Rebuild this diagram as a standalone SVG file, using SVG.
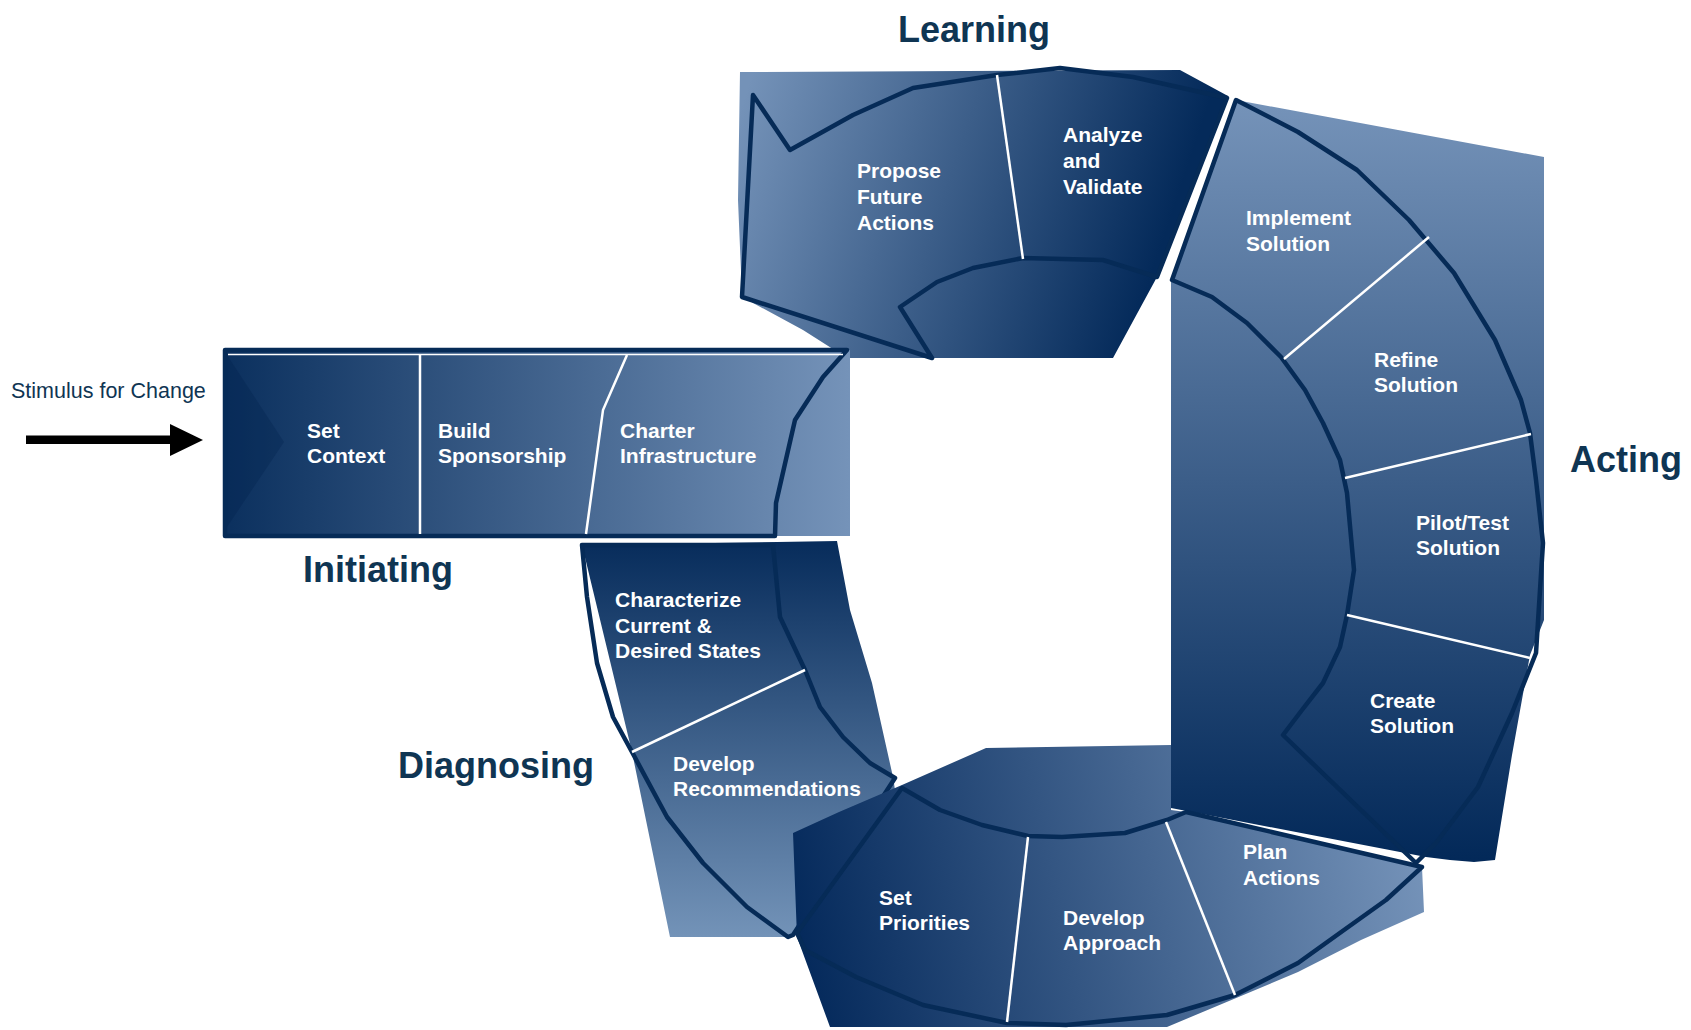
<svg xmlns="http://www.w3.org/2000/svg" width="1691" height="1030" viewBox="0 0 1691 1030">
<defs>
<linearGradient id="gInit" gradientUnits="userSpaceOnUse" x1="225" y1="0" x2="850" y2="0"><stop offset="0" stop-color="#0b305e"/><stop offset="1" stop-color="#7593b9"/></linearGradient>
<linearGradient id="gLearn" gradientUnits="userSpaceOnUse" x1="740" y1="110" x2="1160" y2="250"><stop offset="0" stop-color="#7492b8"/><stop offset="1" stop-color="#042a5a"/></linearGradient>
<linearGradient id="gAct" gradientUnits="userSpaceOnUse" x1="0" y1="100" x2="0" y2="865"><stop offset="0" stop-color="#7593b9"/><stop offset="1" stop-color="#022858"/></linearGradient>
<linearGradient id="gDiag" gradientUnits="userSpaceOnUse" x1="0" y1="545" x2="0" y2="937"><stop offset="0" stop-color="#082d5c"/><stop offset="1" stop-color="#7393b8"/></linearGradient>
<linearGradient id="gPlan" gradientUnits="userSpaceOnUse" x1="800" y1="990" x2="1425" y2="860"><stop offset="0" stop-color="#03285a"/><stop offset="1" stop-color="#7593b9"/></linearGradient>
</defs>
<style>
.outline{fill:none;stroke:#062b57;stroke-width:4.5;stroke-linejoin:round}
.div{stroke:#fff;stroke-width:2.5;fill:none}
.t{font-family:"Liberation Sans",Arial,sans-serif;font-weight:bold;font-size:21px;fill:#fff}
.phase{font-family:"Liberation Sans",Arial,sans-serif;font-weight:bold;font-size:36px;fill:#0f3553}
.stim{font-family:"Liberation Sans",Arial,sans-serif;font-size:21.5px;fill:#0f3553}
</style>
<rect width="1691" height="1030" fill="#fff"/>

<g id="acting">
<polygon fill="url(#gAct)" points="1236,100 1544,157 1544,620 1530,655 1512,755 1495,860 1474,862 1450,860 1426,857 1171,808 1171,280"/>
<path class="outline" d="M1236,100 L1298,132 L1357,170 L1409,220 L1454,273 L1495,340 L1521,400 L1530,433 L1536,480 L1543,543 L1536,653 L1512,713 L1478,787 L1436,843 L1416,863 L1283,735 L1302,710 L1323,683 L1340,647 L1347,615 L1354,570 L1347,493 L1340,460 L1323,423 L1305,390 L1281,357 L1247,323 L1212,297 L1172,280 Z"/>
<line class="div" x1="1429" y1="237" x2="1284" y2="359"/>
<line class="div" x1="1531" y1="434" x2="1345" y2="478"/>
<line class="div" x1="1347" y1="615" x2="1530" y2="658"/>
<text class="t" x="1246" y="225">Implement<tspan x="1246" y="251">Solution</tspan></text>
<text class="t" x="1374" y="367">Refine<tspan x="1374" y="392">Solution</tspan></text>
<text class="t" x="1416" y="530">Pilot/Test<tspan x="1416" y="555">Solution</tspan></text>
<text class="t" x="1370" y="708">Create<tspan x="1370" y="733">Solution</tspan></text>
</g>

<g id="learning">
<polygon fill="url(#gLearn)" points="740,72 1180,70 1228,96 1157,277 1113,358 847,358 803,330 753,303 742,295 738,200"/>
<path class="outline" d="M753,95 L790,150 L853,115 L913,88 L997,75 L1060,68 L1133,77 L1227,98 L1157,277 L1103,260 L1023,258 L973,268 L937,282 L900,307 L932,358 L742,297 Z"/>
<line class="div" x1="997" y1="75" x2="1023" y2="259"/>
<text class="t" x="857" y="178">Propose<tspan x="857" y="204">Future</tspan><tspan x="857" y="230">Actions</tspan></text>
<text class="t" x="1063" y="142">Analyze<tspan x="1063" y="168">and</tspan><tspan x="1063" y="194">Validate</tspan></text>
</g>

<g id="initiating">
<rect x="225" y="350" width="625" height="186" fill="url(#gInit)"/>
<polygon points="225,352 284,442 225,530" fill="#00204d" opacity="0.3"/>
<path class="outline" d="M225,350 L847,350 L823,377 L795,420 L776,503 L775,536 L225,536 Z"/>
<line x1="228" y1="354.5" x2="843" y2="354.5" stroke="#fff" stroke-width="1.5"/>
<line class="div" x1="420" y1="355" x2="420" y2="534"/>
<path class="div" d="M627,355 L603,410 L586,534"/>
<text class="t" x="307" y="438">Set<tspan x="307" y="463">Context</tspan></text>
<text class="t" x="438" y="438">Build<tspan x="438" y="463">Sponsorship</tspan></text>
<text class="t" x="620" y="438">Charter<tspan x="620" y="463">Infrastructure</tspan></text>
</g>

<g id="diagnosing">
<polygon fill="url(#gDiag)" points="582,545 837,541 850,610 872,683 893,777 895,790 793,937 670,937 632,752"/>
<path class="outline" d="M582,545 L773,545 L780,617 L805,670 L820,707 L843,737 L870,763 L895,778 L793,935 L788,937 L747,907 L703,863 L667,817 L632,752 L613,717 L597,663 L587,597 Z"/>
<line class="div" x1="805" y1="670" x2="632" y2="752"/>
<text class="t" x="615" y="607">Characterize<tspan x="615" y="633">Current &amp;</tspan><tspan x="615" y="658">Desired States</tspan></text>
<text class="t" x="673" y="771">Develop<tspan x="673" y="796">Recommendations</tspan></text>
</g>

<g id="planning">
<polygon fill="url(#gPlan)" points="793,833 839,812 902,785 986,748 1171,745 1171,810 1186,812 1422,867 1424,912 1361,940 1298,972 1167,1027 830,1027 797,937"/>
<path class="outline" d="M902,788 L940,810 L982,825 L1028,836 L1062,837 L1125,833 L1167,820 L1186,812 L1422,867 L1386,900 L1344,930 L1298,963 L1235,995 L1167,1015 L1066,1025 L1007,1023 L923,1005 L856,977 L805,950 L797,933 Z"/>
<line class="div" x1="1028" y1="837" x2="1007" y2="1022"/>
<line class="div" x1="1166" y1="822" x2="1235" y2="995"/>
<text class="t" x="879" y="905">Set<tspan x="879" y="930">Priorities</tspan></text>
<text class="t" x="1063" y="925">Develop<tspan x="1063" y="950">Approach</tspan></text>
<text class="t" x="1243" y="859">Plan<tspan x="1243" y="885">Actions</tspan></text>
</g>

<g id="labels">
<text class="phase" x="898" y="42">Learning</text>
<text class="phase" x="1570" y="472">Acting</text>
<text class="phase" x="398" y="778">Diagnosing</text>
<text class="phase" x="303" y="582">Initiating</text>
<text class="stim" x="11" y="398">Stimulus for Change</text>
</g>

<g id="connectors">
<polygon points="26,435.5 170,435.5 170,424 203,440 170,456 170,444 26,444" fill="#000"/>
</g>
</svg>
